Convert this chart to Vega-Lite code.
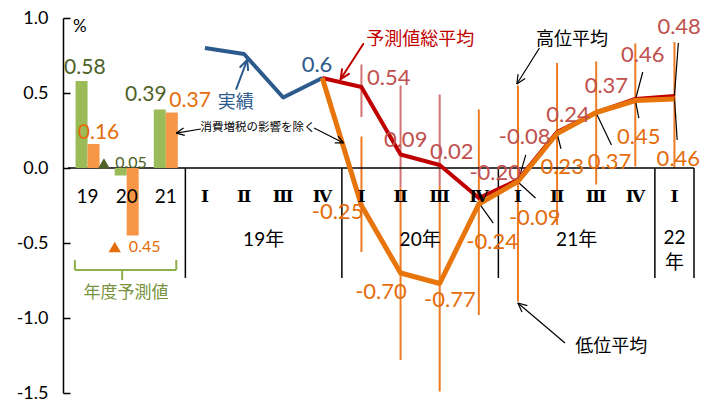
{
  "$schema": "https://vega.github.io/schema/vega-lite/v6.json",
  "width": 636,
  "height": 375,
  "autosize": {"type": "none"},
  "padding": {"left": 63, "top": 18, "right": 6, "bottom": 10},
  "background": "white",
  "config": {"view": {"stroke": null}, "font": "Lato"},
  "resolve": {"scale": {"color": "independent"}},
  "datasets": {
    "bars": [
      {"fy": "19", "t": 0, "v": 0.58, "s": "g"}, {"fy": "19", "t": 0, "v": 0.16, "s": "o"},
      {"fy": "20", "t": 1, "v": -0.05, "s": "g"}, {"fy": "20", "t": 1, "v": -0.45, "s": "o"},
      {"fy": "21", "t": 2, "v": 0.39, "s": "g"}, {"fy": "21", "t": 2, "v": 0.37, "s": "o"}
    ],
    "lines": [
      {"q": "19Q1", "t": 3, "v": 0.80, "s": "actual"}, {"q": "19Q2", "t": 4, "v": 0.76, "s": "actual"},
      {"q": "19Q3", "t": 5, "v": 0.47, "s": "actual"}, {"q": "19Q4", "t": 6, "v": 0.60, "s": "actual"},
      {"q": "19Q4", "t": 6, "v": 0.60, "s": "total"}, {"q": "20Q1", "t": 7, "v": 0.54, "s": "total"},
      {"q": "20Q2", "t": 8, "v": 0.09, "s": "total"}, {"q": "20Q3", "t": 9, "v": 0.02, "s": "total"},
      {"q": "20Q4", "t": 10, "v": -0.20, "s": "total"}, {"q": "21Q1", "t": 11, "v": -0.08, "s": "total"},
      {"q": "21Q2", "t": 12, "v": 0.24, "s": "total"}, {"q": "21Q3", "t": 13, "v": 0.37, "s": "total"},
      {"q": "21Q4", "t": 14, "v": 0.46, "s": "total"}, {"q": "22Q1", "t": 15, "v": 0.48, "s": "total"},
      {"q": "19Q4", "t": 6, "v": 0.60, "s": "excl"}, {"q": "20Q1", "t": 7, "v": -0.25, "s": "excl"},
      {"q": "20Q2", "t": 8, "v": -0.70, "s": "excl"}, {"q": "20Q3", "t": 9, "v": -0.77, "s": "excl"},
      {"q": "20Q4", "t": 10, "v": -0.24, "s": "excl"}, {"q": "21Q1", "t": 11, "v": -0.09, "s": "excl"},
      {"q": "21Q2", "t": 12, "v": 0.23, "s": "excl"}, {"q": "21Q3", "t": 13, "v": 0.37, "s": "excl"},
      {"q": "21Q4", "t": 14, "v": 0.45, "s": "excl"}, {"q": "22Q1", "t": 15, "v": 0.46, "s": "excl"}
    ],
    "ranges": [
      {"t": 7, "v": 0.69, "v2": 0.34, "s": "total"}, {"t": 8, "v": 0.55, "v2": -0.13, "s": "total"},
      {"t": 9, "v": 0.49, "v2": -0.12, "s": "total"},
      {"t": 7, "v": 0.21, "v2": -0.56, "s": "excl"}, {"t": 8, "v": -0.13, "v2": -1.28, "s": "excl"},
      {"t": 9, "v": -0.12, "v2": -1.49, "s": "excl"}, {"t": 10, "v": 0.39, "v2": -0.98, "s": "excl"},
      {"t": 11, "v": 0.55, "v2": -0.89, "s": "excl"}, {"t": 12, "v": 0.70, "v2": -0.38, "s": "excl"},
      {"t": 13, "v": 0.71, "v2": -0.11, "s": "excl"}, {"t": 14, "v": 0.83, "v2": 0.01, "s": "excl"},
      {"t": 15, "v": 0.84, "v2": 0.00, "s": "excl"}
    ],
    "vlabels": [
      {"t": 7.70, "v": 0.600, "txt": "0.54", "s": "total"},
      {"t": 8.13, "v": 0.187, "txt": "0.09", "s": "total"},
      {"t": 9.31, "v": 0.107, "txt": "0.02", "s": "total"},
      {"t": 10.42, "v": -0.033, "txt": "-0.20", "s": "total"},
      {"t": 11.17, "v": 0.207, "txt": "-0.08", "s": "total"},
      {"t": 12.28, "v": 0.353, "txt": "0.24", "s": "total"},
      {"t": 13.26, "v": 0.547, "txt": "0.37", "s": "total"},
      {"t": 14.19, "v": 0.753, "txt": "0.46", "s": "total"},
      {"t": 15.12, "v": 0.940, "txt": "0.48", "s": "total"},
      {"t": 6.39, "v": -0.293, "txt": "-0.25", "s": "excl"},
      {"t": 7.50, "v": -0.827, "txt": "-0.70", "s": "excl"},
      {"t": 9.26, "v": -0.880, "txt": "-0.77", "s": "excl"},
      {"t": 10.34, "v": -0.493, "txt": "-0.24", "s": "excl"},
      {"t": 11.43, "v": -0.333, "txt": "-0.09", "s": "excl"},
      {"t": 12.13, "v": 0.007, "txt": "0.23", "s": "excl"},
      {"t": 13.34, "v": 0.040, "txt": "0.37", "s": "excl"},
      {"t": 14.09, "v": 0.207, "txt": "0.45", "s": "excl"},
      {"t": 15.10, "v": 0.060, "txt": "0.46", "s": "excl"}
    ],
    "barlabels": [
      {"t": -0.07, "v": 0.667, "txt": "0.58", "s": "g"},
      {"t": 0.28, "v": 0.233, "txt": "0.16", "s": "o"},
      {"t": 1.49, "v": 0.487, "txt": "0.39", "s": "g"},
      {"t": 2.62, "v": 0.447, "txt": "0.37", "s": "o"}
    ],
    "leaders": [
      {"t": 10.0, "v": -0.233, "t2": 10.37, "v2": -0.367},
      {"t": 11.0, "v": -0.093, "t2": 11.2, "v2": 0.087},
      {"t": 11.0, "v": -0.093, "t2": 11.45, "v2": -0.2},
      {"t": 12.0, "v": 0.233, "t2": 12.1, "v2": 0.127},
      {"t": 13.0, "v": 0.367, "t2": 13.39, "v2": 0.153},
      {"t": 14.0, "v": 0.453, "t2": 14.19, "v2": 0.64},
      {"t": 14.0, "v": 0.453, "t2": 14.09, "v2": 0.333},
      {"t": 15.0, "v": 0.48, "t2": 15.1, "v2": 0.833},
      {"t": 15.0, "v": 0.47, "t2": 15.07, "v2": 0.187}
    ],
    "arrows": [
      {"t": 3.802, "v": 0.527, "t2": 4.079, "v2": 0.72, "c": "blue"},
      {"t": 4.079, "v": 0.72, "t2": 3.903, "v2": 0.673, "c": "blue"},
      {"t": 4.079, "v": 0.72, "t2": 4.104, "v2": 0.653, "c": "blue"},
      {"t": 7.047, "v": 0.827, "t2": 6.469, "v2": 0.593, "c": "red"},
      {"t": 6.469, "v": 0.593, "t2": 6.682, "v2": 0.628, "c": "red"},
      {"t": 6.469, "v": 0.593, "t2": 6.504, "v2": 0.659, "c": "red"},
      {"t": 2.896, "v": 0.26, "t2": 2.267, "v2": 0.233, "c": "black"},
      {"t": 2.267, "v": 0.233, "t2": 2.484, "v2": 0.217, "c": "black"},
      {"t": 2.267, "v": 0.233, "t2": 2.453, "v2": 0.267, "c": "black"},
      {"t": 5.789, "v": 0.267, "t2": 6.544, "v2": 0.167, "c": "black"},
      {"t": 6.544, "v": 0.167, "t2": 6.403, "v2": 0.213, "c": "black"},
      {"t": 6.544, "v": 0.167, "t2": 6.318, "v2": 0.168, "c": "black"},
      {"t": 11.55, "v": 0.8, "t2": 10.972, "v2": 0.56, "c": "black"},
      {"t": 10.972, "v": 0.56, "t2": 11.183, "v2": 0.596, "c": "black"},
      {"t": 10.972, "v": 0.56, "t2": 11.004, "v2": 0.626, "c": "black"},
      {"t": 12.204, "v": -1.167, "t2": 10.997, "v2": -0.9, "c": "black"},
      {"t": 10.997, "v": -0.9, "t2": 11.105, "v2": -0.96, "c": "black"},
      {"t": 10.997, "v": -0.9, "t2": 11.241, "v2": -0.917, "c": "black"}
    ],
    "bracket": [
      {"t": -0.324, "v": -0.68, "t2": 2.267, "v2": -0.68},
      {"t": -0.324, "v": -0.613, "t2": -0.324, "v2": -0.68},
      {"t": 2.267, "v": -0.613, "t2": 2.267, "v2": -0.68},
      {"t": 0.884, "v": -0.68, "t2": 0.884, "v2": -0.747}
    ],
    "frame": [
      {"t": -0.5, "v": 0, "t2": 15.5, "v2": 0},
      {"t": 2.5, "v": 0, "t2": 2.5, "v2": -0.733},
      {"t": 6.5, "v": 0, "t2": 6.5, "v2": -0.733},
      {"t": 10.5, "v": 0, "t2": 10.5, "v2": -0.733},
      {"t": 14.5, "v": 0, "t2": 14.5, "v2": -0.733},
      {"t": 15.5, "v": 0, "t2": 15.5, "v2": -0.733}
    ],
    "cats": [
      {"t": 0, "v": -0.193, "txt": "19", "k": "num"}, {"t": 1, "v": -0.193, "txt": "20", "k": "num"},
      {"t": 2, "v": -0.193, "txt": "21", "k": "num"},
      {"t": 3, "v": -0.193, "txt": "Ⅰ", "k": "rom"}, {"t": 4, "v": -0.193, "txt": "Ⅱ", "k": "rom"},
      {"t": 5, "v": -0.193, "txt": "Ⅲ", "k": "rom"}, {"t": 6, "v": -0.193, "txt": "Ⅳ", "k": "rom"},
      {"t": 7, "v": -0.193, "txt": "Ⅰ", "k": "rom"}, {"t": 8, "v": -0.193, "txt": "Ⅱ", "k": "rom"},
      {"t": 9, "v": -0.193, "txt": "Ⅲ", "k": "rom"}, {"t": 10, "v": -0.193, "txt": "Ⅳ", "k": "rom"},
      {"t": 11, "v": -0.193, "txt": "Ⅰ", "k": "rom"}, {"t": 12, "v": -0.193, "txt": "Ⅱ", "k": "rom"},
      {"t": 13, "v": -0.193, "txt": "Ⅲ", "k": "rom"}, {"t": 14, "v": -0.193, "txt": "Ⅳ", "k": "rom"},
      {"t": 15, "v": -0.193, "txt": "Ⅰ", "k": "rom"},
      {"t": 4.5, "v": -0.48, "txt": "19年", "k": "num"}, {"t": 8.5, "v": -0.48, "txt": "20年", "k": "num"},
      {"t": 12.5, "v": -0.48, "txt": "21年", "k": "num"}, {"t": 15, "v": -0.467, "txt": "22", "k": "num"},
      {"t": 15, "v": -0.633, "txt": "年", "k": "num"}
    ]
  },
  "encoding": {
    "x": {"field": "t", "type": "quantitative", "scale": {"domain": [-0.5, 15.5], "nice": false, "zero": false}, "axis": null},
    "y": {
      "field": "v", "type": "quantitative",
      "scale": {"domain": [-1.5, 1.0], "nice": false, "zero": false},
      "axis": {
        "title": null, "grid": false, "values": [-1.5, -1, -0.5, 0, 0.5, 1],
        "labelExpr": "datum.value < 0 ? '-' + format(-datum.value, '.1f') : format(datum.value, '.1f')",
        "domainColor": "black", "domainWidth": 1.5, "tickColor": "black", "tickWidth": 1.5,
        "tickSize": -7, "labelPadding": 22, "labelFontSize": 18, "labelFont": "Lato", "labelColor": "black"
      }
    }
  },
  "layer": [
    {
      "data": {"name": "ranges"},
      "transform": [{"filter": "datum.s == 'total'"}],
      "mark": {"type": "rule", "color": "#CC5A5A", "strokeWidth": 2, "opacity": 0.85},
      "encoding": {"y2": {"field": "v2"}}
    },
    {
      "data": {"name": "ranges"},
      "transform": [{"filter": "datum.s == 'excl'"}],
      "mark": {"type": "rule", "color": "#EE7A22", "strokeWidth": 2},
      "encoding": {"y2": {"field": "v2"}}
    },
    {
      "data": {"name": "frame"},
      "mark": {"type": "rule", "color": "black", "strokeWidth": 1.5},
      "encoding": {"x2": {"field": "t2"}, "y2": {"field": "v2"}}
    },
    {
      "data": {"name": "bars"},
      "transform": [{"filter": "datum.s == 'g'"}],
      "mark": {"type": "bar", "width": 12, "xOffset": -6, "color": "#9BBB59"},
      "encoding": {"y2": {"datum": 0}}
    },
    {
      "data": {"name": "bars"},
      "transform": [{"filter": "datum.s == 'o'"}],
      "mark": {"type": "bar", "width": 12, "xOffset": 6, "color": "#F79646"},
      "encoding": {"y2": {"datum": 0}}
    },
    {
      "data": {"name": "leaders"},
      "mark": {"type": "rule", "color": "black", "strokeWidth": 1.2},
      "encoding": {"x2": {"field": "t2"}, "y2": {"field": "v2"}}
    },
    {
      "data": {"name": "lines"},
      "transform": [{"filter": "datum.s == 'actual'"}],
      "mark": {"type": "line", "color": "#2C5A8C", "strokeWidth": 4, "strokeJoin": "round"},
      "encoding": {}
    },
    {
      "data": {"name": "lines"},
      "transform": [{"filter": "datum.s == 'total'"}],
      "mark": {"type": "line", "color": "#C00000", "strokeWidth": 4, "strokeJoin": "round"},
      "encoding": {}
    },
    {
      "data": {"name": "lines"},
      "transform": [{"filter": "datum.s == 'excl'"}],
      "mark": {"type": "line", "color": "#E8740C", "strokeWidth": 5, "strokeJoin": "round"},
      "encoding": {}
    },
    {
      "data": {"name": "vlabels"},
      "transform": [{"filter": "datum.s == 'total'"}],
      "mark": {"type": "text", "font": "Lato", "fontSize": 22, "align": "center", "baseline": "middle", "color": "#C0504D"},
      "encoding": {"text": {"field": "txt"}}
    },
    {
      "data": {"name": "vlabels"},
      "transform": [{"filter": "datum.s == 'excl'"}],
      "mark": {"type": "text", "font": "Lato", "fontSize": 22, "align": "center", "baseline": "middle", "color": "#E46C0A"},
      "encoding": {"text": {"field": "txt"}}
    },
    {
      "data": {"name": "barlabels"},
      "transform": [{"filter": "datum.s == 'g'"}],
      "mark": {"type": "text", "font": "Lato", "fontSize": 21, "align": "center", "baseline": "middle", "color": "#4F6228"},
      "encoding": {"text": {"field": "txt"}}
    },
    {
      "data": {"name": "barlabels"},
      "transform": [{"filter": "datum.s == 'o'"}],
      "mark": {"type": "text", "font": "Lato", "fontSize": 21, "align": "center", "baseline": "middle", "color": "#E46C0A"},
      "encoding": {"text": {"field": "txt"}}
    },
    {
      "data": {"values": [{"t": 0.418, "v": 0.03}]},
      "mark": {"type": "point", "shape": "triangle-up", "filled": true, "size": 150, "opacity": 1, "color": "#4F6228"},
      "encoding": {}
    },
    {
      "data": {"values": [{"t": 0.695, "v": -0.527}]},
      "mark": {"type": "point", "shape": "triangle-up", "filled": true, "size": 150, "opacity": 1, "color": "#E46C0A"},
      "encoding": {}
    },
    {
      "data": {"values": [{"t": 1.11, "v": 0.033, "txt": "0.05"}]},
      "mark": {"type": "text", "font": "Lato", "fontSize": 16, "align": "center", "baseline": "middle", "color": "#4F6228"},
      "encoding": {"text": {"field": "txt"}}
    },
    {
      "data": {"values": [{"t": 1.46, "v": -0.527, "txt": "0.45"}]},
      "mark": {"type": "text", "font": "Lato", "fontSize": 16, "align": "center", "baseline": "middle", "color": "#E46C0A"},
      "encoding": {"text": {"field": "txt"}}
    },
    {
      "data": {"name": "cats"},
      "transform": [{"filter": "datum.k == 'num'"}],
      "mark": {"type": "text", "font": "Lato, Noto Sans CJK JP", "fontSize": 19, "color": "black", "align": "center", "baseline": "middle"},
      "encoding": {"text": {"field": "txt"}}
    },
    {
      "data": {"name": "cats"},
      "transform": [{"filter": "datum.k == 'rom'"}],
      "mark": {"type": "text", "font": "DejaVu Serif", "fontSize": 17, "fontWeight": "bold", "color": "black", "align": "center", "baseline": "middle"},
      "encoding": {"text": {"field": "txt"}}
    },
    {
      "data": {"name": "bracket"},
      "mark": {"type": "rule", "color": "#8DB04A", "strokeWidth": 2},
      "encoding": {"x2": {"field": "t2"}, "y2": {"field": "v2"}}
    },
    {
      "data": {"name": "arrows"},
      "transform": [{"filter": "datum.c == 'blue'"}],
      "mark": {"type": "rule", "strokeWidth": 2, "strokeCap": "round", "color": "#2C5A8C"},
      "encoding": {"x2": {"field": "t2"}, "y2": {"field": "v2"}}
    },
    {
      "data": {"name": "arrows"},
      "transform": [{"filter": "datum.c == 'red'"}],
      "mark": {"type": "rule", "strokeWidth": 2, "strokeCap": "round", "color": "#C00000"},
      "encoding": {"x2": {"field": "t2"}, "y2": {"field": "v2"}}
    },
    {
      "data": {"name": "arrows"},
      "transform": [{"filter": "datum.c == 'black'"}],
      "mark": {"type": "rule", "strokeWidth": 1.2, "color": "black"},
      "encoding": {"x2": {"field": "t2"}, "y2": {"field": "v2"}}
    },
    {
      "data": {"values": [{"t": 3.79, "v": 0.433, "txt": "実績"}]},
      "mark": {"type": "text", "font": "Noto Sans CJK JP", "fontSize": 18, "align": "center", "baseline": "middle", "color": "#2C5A8C"},
      "encoding": {"text": {"field": "txt"}}
    },
    {
      "data": {"values": [{"t": 8.506, "v": 0.853, "txt": "予測値総平均"}]},
      "mark": {"type": "text", "font": "Noto Sans CJK JP", "fontSize": 18, "align": "center", "baseline": "middle", "color": "#C00000"},
      "encoding": {"text": {"field": "txt"}}
    },
    {
      "data": {"values": [{"t": 12.38, "v": 0.853, "txt": "高位平均"}, {"t": 13.387, "v": -1.193, "txt": "低位平均"}]},
      "mark": {"type": "text", "font": "Noto Sans CJK JP", "fontSize": 18, "align": "center", "baseline": "middle", "color": "black"},
      "encoding": {"text": {"field": "txt"}}
    },
    {
      "data": {"values": [{"t": 0.984, "v": -0.833, "txt": "年度予測値"}]},
      "mark": {"type": "text", "font": "Noto Sans CJK JP", "fontSize": 17, "align": "center", "baseline": "middle", "color": "#77933C"},
      "encoding": {"text": {"field": "txt"}}
    },
    {
      "data": {"values": [{"t": 5.865, "v": 0.687, "txt": "0.6"}]},
      "mark": {"type": "text", "font": "Lato", "fontSize": 22, "color": "#2C5A8C", "align": "center", "baseline": "middle"},
      "encoding": {"text": {"field": "txt"}}
    },
    {
      "data": {"values": [{"t": 4.355, "v": 0.267, "txt": "消費増税の影響を除く"}]},
      "mark": {"type": "text", "font": "Noto Sans CJK JP", "fontSize": 11.5, "color": "black", "align": "center", "baseline": "middle"},
      "encoding": {"text": {"field": "txt"}}
    },
    {
      "data": {"values": [{"t": -0.198, "v": 0.94, "txt": "%"}]},
      "mark": {"type": "text", "font": "Lato", "fontSize": 17, "color": "black", "align": "center", "baseline": "middle"},
      "encoding": {"text": {"field": "txt"}}
    }
  ]
}
